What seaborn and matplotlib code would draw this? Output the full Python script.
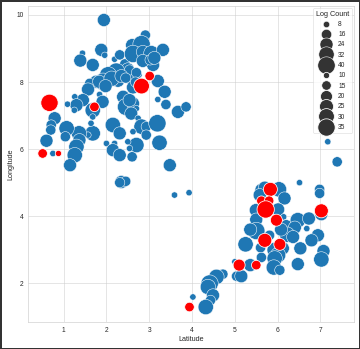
import pandas as pd
import seaborn as sns
import matplotlib.pyplot as plt

# Blue group: latitude, longitude, log count
blue_lat = [1.94, 2.91, 1.44, 1.88, 1.96, 1.39, 1.68, 2.19, 2.31, 2.43,
            2.60, 2.82, 2.62, 2.85, 3.05, 3.32, 3.09, 2.85, 2.50, 2.23,
            2.04, 1.92, 1.76, 1.61, 1.57, 2.27, 2.58, 2.76, 3.20, 3.36,
            3.20, 3.39, 2.62, 1.84, 1.91, 1.45, 1.26, 1.30, 1.09, 1.68,
            2.39, 2.46, 2.62, 2.70, 2.58, 2.74, 2.82, 2.93, 3.19, 2.93,
            2.62, 2.15, 2.31, 3.24, 2.70, 2.50, 2.19, 2.00, 2.15, 2.31,
            2.60, 2.54, 1.68, 1.57, 1.36, 1.37, 1.30, 1.26, 1.15, 1.07,
            1.04, 0.79, 0.71, 0.70, 0.60, 0.75, 3.48, 3.67, 3.86, 2.35,
            2.45, 2.31, 3.59, 1.68, 1.64, 1.25, 2.54, 2.70, 2.54, 1.83,
            2.12, 2.35, 1.98, 2.45, 2.68, 3.02, 3.12,
            7.17, 7.39, 3.93, 6.51, 6.98, 6.98, 5.62, 5.70, 6.03, 5.58,
            6.16, 5.49, 6.01, 5.50, 6.14, 6.20, 6.47, 6.73, 6.68, 6.40,
            6.22, 6.36, 7.02, 6.94, 6.79, 6.53, 7.07, 7.02, 6.47, 5.50,
            5.36, 5.81, 5.25, 5.60, 5.93, 6.12, 6.01, 5.93, 5.62, 5.36,
            5.91, 6.05, 5.00, 5.04, 5.15, 4.72, 4.57, 4.41, 4.37, 4.49,
            4.43, 4.32, 4.02, 6.08]
blue_lon = [9.85, 9.40, 8.86, 8.96, 8.80, 8.64, 8.51, 8.68, 8.81, 8.54,
            9.10, 9.13, 8.84, 8.90, 8.86, 8.96, 8.51, 8.63, 8.38, 8.31,
            8.20, 8.01, 8.01, 7.96, 7.78, 8.04, 8.11, 8.21, 8.03, 7.71,
            7.48, 7.33, 7.84, 7.63, 7.41, 7.46, 7.56, 7.31, 7.34, 7.16,
            7.56, 7.26, 7.36, 7.21, 7.06, 6.92, 6.67, 6.67, 6.77, 6.42,
            6.52, 6.72, 6.47, 6.19, 6.12, 6.22, 6.17, 6.17, 5.97, 5.82,
            5.77, 6.02, 6.47, 6.42, 6.47, 6.27, 6.07, 5.82, 5.52, 6.62,
            6.37, 6.92, 6.72, 6.57, 6.25, 5.87, 5.52, 7.11, 7.26, 5.02,
            5.04, 5.00, 4.63, 6.96, 6.77, 7.16, 8.36, 8.28, 7.46, 8.01,
            8.10, 8.18, 7.88, 8.12, 8.00, 8.66, 8.72,
            6.22, 5.62, 4.70, 5.00, 4.80, 4.68, 4.78, 4.85, 4.80, 4.63,
            4.53, 4.18, 4.20, 3.90, 3.98, 3.70, 3.88, 3.93, 3.63, 3.66,
            3.45, 3.38, 4.06, 3.43, 3.28, 3.04, 2.96, 2.71, 2.57, 3.56,
            3.60, 3.43, 3.16, 3.06, 2.99, 3.04, 2.84, 2.74, 2.77, 2.54,
            2.47, 2.39, 2.64, 2.21, 2.21, 2.27, 2.19, 1.99, 1.89, 1.64,
            1.49, 1.29, 1.59, 3.60]
blue_logcount = [24, 16, 8, 24, 8, 24, 24, 8, 16, 16,
                 24, 40, 40, 24, 32, 24, 24, 24, 24, 40,
                 40, 40, 24, 16, 24, 24, 24, 8, 24, 24,
                 8, 16, 24, 8, 24, 24, 8, 24, 8, 32,
                 24, 40, 24, 8, 24, 8, 32, 16, 40, 16,
                 8, 32, 24, 32, 32, 8, 8, 8, 24, 24,
                 16, 8, 32, 8, 32, 24, 32, 32, 24, 32,
                 16, 24, 16, 16, 24, 8, 24, 24, 16, 24,
                 16, 16, 8, 8, 8, 8, 16, 16, 24, 24,
                 32, 24, 24, 16, 16, 16, 24,
                 8, 16, 8, 8, 16, 16, 24, 24, 32, 24,
                 24, 24, 24, 24, 8, 24, 32, 24, 8, 24,
                 32, 24, 24, 24, 24, 24, 24, 32, 24, 40,
                 24, 16, 32, 16, 32, 24, 32, 32, 16, 24,
                 32, 16, 8, 16, 24, 16, 32, 40, 32, 24,
                 16, 32, 8, 24]

# Red group: latitude, longitude, log count
red_lat = [0.67, 0.51, 0.88, 1.72, 2.82, 3.01, 5.83, 5.62, 5.80, 5.72,
           5.97, 7.02, 5.70, 6.05, 5.50, 5.10, 3.94]
red_lon = [7.38, 5.87, 5.87, 7.26, 7.88, 8.18, 4.80, 4.46, 4.46, 4.20,
           3.88, 4.16, 3.28, 3.16, 2.54, 2.54, 1.29]
red_logcount = [35, 15, 10, 15, 30, 15, 25, 15, 15, 35,
                20, 25, 25, 20, 15, 20, 15]

blue_df = pd.DataFrame({"Latitude": blue_lat, "Longitude": blue_lon,
                        "Log Count": blue_logcount})
red_df = pd.DataFrame({"Latitude": red_lat, "Longitude": red_lon,
                       "Log Count": red_logcount})

sns.set_theme(style="whitegrid", font_scale=1.2)
plt.rcParams["font.family"] = ["Liberation Sans", "DejaVu Sans"]

fig, ax = plt.subplots(figsize=(10, 349 / 36), dpi=36)
fig.subplots_adjust(left=0.078, right=0.983, top=0.983, bottom=0.077)
fig.patch.set_edgecolor("#333333")
fig.patch.set_linewidth(6)

sns.scatterplot(data=blue_df, x="Latitude", y="Longitude", size="Log Count",
                sizes=(160, 1200), color="#1f77b4", legend="full", ax=ax)
sns.scatterplot(data=red_df, x="Latitude", y="Longitude", size="Log Count",
                sizes=(160, 1200), color="red", legend="full", ax=ax)

ax.set_xlim(0.17, 7.78)
ax.set_ylim(0.84, 10.27)
ax.set_xticks([1, 2, 3, 4, 5, 6, 7])
ax.set_yticks([2, 4, 6, 8, 10])
sns.move_legend(ax, "upper right", borderaxespad=0.3)

# size legend keys in neutral dark grey
for handle in ax.get_legend().legend_handles:
    handle.set_markerfacecolor(".2")
    handle.set_markeredgecolor("white")

fig.savefig("out.png", dpi=36)
